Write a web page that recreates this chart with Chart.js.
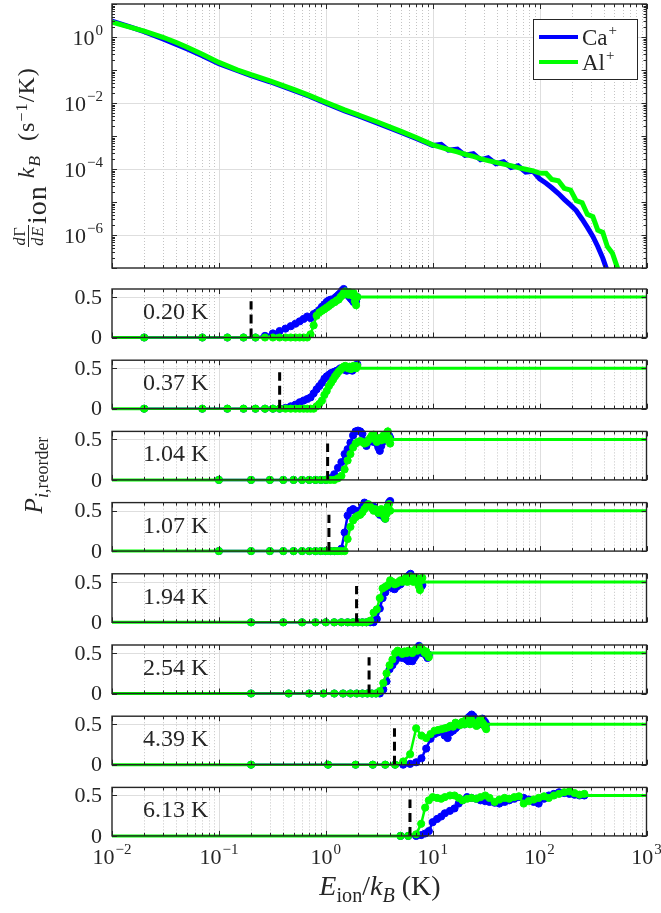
<!DOCTYPE html>
<html>
<head>
<meta charset="utf-8">
<script src="https://cdn.jsdelivr.net/npm/chart.js@4.4.1/dist/chart.umd.min.js"></script>
<style>
  body { margin: 0; background: #fff; }
  #wrap { position: relative; width: 661px; height: 913px; overflow: hidden;
          font-family: "Liberation Serif", serif; color: #262626; }
  canvas { position: absolute; left: 0; }
  .lbl { position: absolute; white-space: nowrap; text-align: center; z-index: 5; }
  .lbl sub { font-size: 0.72em; vertical-align: -0.35em; line-height: 0; }
  .lbl sup { font-size: 0.68em; vertical-align: 0.45em; line-height: 0; }
  .frac { display: inline-block; vertical-align: middle; font-size: 16px; line-height: 17px; text-align: center; margin-right: 1px; }
  .frac span { display: block; padding: 0 1px; }
  .frac .den { border-top: 1px solid #262626; }
  .ion { font-size: 28px; position: relative; top: 12px; letter-spacing: 1px; }
</style>
</head>
<body>
<div id="wrap">
  <canvas id="rate" width="661" height="282" style="top:0"></canvas>
</div>
<script>
// ---- top panel: differential rate vs ion energy ----
const rateE = [0.01, 0.015, 0.02, 0.03, 0.04, 0.05, 0.07, 0.1, 0.15, 0.2,
  0.3, 0.5, 0.7, 1, 1.5, 2, 3, 5, 7, 10,
  12, 14, 17, 20, 24, 28, 33, 39, 46, 54,
  63, 74, 87, 100, 115, 130, 150, 170, 195, 220,
  250, 280, 315, 350, 390, 430, 480, 530, 590];
const rateCa = [3.0, 2.0, 1.45, 0.88, 0.6, 0.44, 0.27, 0.155, 0.095, 0.068,
  0.044, 0.024, 0.016, 0.0098, 0.0058, 0.0041, 0.0025, 0.0013, 0.00085, 0.00052,
  5.6e-4, 3.7e-4, 4.0e-4, 2.6e-4, 2.9e-4, 1.9e-4, 2.2e-4, 1.45e-4, 1.65e-4, 1.1e-4,
  1.25e-4, 8e-5, 8.5e-5, 5e-5, 3.7e-5, 2.7e-5, 1.8e-5, 1.2e-5, 8e-6, 5.5e-6,
  3e-6, 1.7e-6, 9e-7, 4.5e-7, 2e-7, 8e-8, 3e-8, 1e-8, 4e-9];
const rateAl = [2.8, 1.95, 1.5, 0.98, 0.68, 0.5, 0.3, 0.17, 0.1, 0.072,
  0.047, 0.026, 0.017, 0.0105, 0.0062, 0.0044, 0.0027, 0.0014, 0.0009, 0.00054,
  4.5e-4, 3.9e-4, 3.3e-4, 2.8e-4, 2.4e-4, 2.05e-4, 1.8e-4, 1.58e-4, 1.4e-4, 1.25e-4,
  1.1e-4, 9.8e-5, 8.8e-5, 7.5e-5, 7.4e-5, 4.8e-5, 4.4e-5, 2.6e-5, 2.3e-5, 1.1e-5,
  9.5e-6, 4.2e-6, 3.6e-6, 1.4e-6, 1.2e-6, 4.5e-7, 2.8e-7, 1.1e-7, 4e-8];

// ---- reorder probability panels ----
const thresholds = [0.20, 0.37, 1.04, 1.07, 1.94, 2.54, 4.39, 6.13];
const tags = ['0.20 K', '0.37 K', '1.04 K', '1.07 K', '1.94 K', '2.54 K', '4.39 K', '6.13 K'];

const e12 = [0.02, 0.07, 0.12, 0.17, 0.22, 0.27, 0.32, 0.37, 0.42, 0.47, 0.52, 0.57, 0.62, 0.67, 0.72, 0.77, 0.82, 0.87, 0.92, 0.97,
  1.02, 1.07, 1.12, 1.17, 1.22, 1.27, 1.32, 1.37, 1.42, 1.47, 1.52, 1.57, 1.62, 1.67, 1.72, 1.77, 1.82, 1.87, 1.92, 1.97];
const ca1 = [0, 0, 0, 0, 0, 0.02, 0.05, 0.08, 0.11, 0.14, 0.17, 0.2, 0.23, 0.26, 0.24, 0.29, 0.31, 0.34, 0.38, 0.41,
  0.44, 0.46, 0.47, 0.45, 0.49, 0.51, 0.53, 0.55, 0.58, 0.6, 0.57, 0.55, 0.52, 0.5, 0.48, 0.46, 0.44, 0.47, 0.45, 0.5];
const al1 = [0, 0, 0, 0, 0, 0, 0, 0, 0, 0, 0, 0, 0, 0, 0.04, 0.15, 0.27, 0.31, 0.33, 0.35,
  0.37, 0.39, 0.41, 0.43, 0.44, 0.46, 0.47, 0.5, 0.52, 0.55, 0.57, 0.55, 0.53, 0.56, 0.54, 0.52, 0.55, 0.45, 0.4, 0.5];
const ca2 = [0, 0, 0, 0, 0, 0, 0, 0, 0.01, 0.03, 0.05, 0.08, 0.1, 0.12, 0.14, 0.19, 0.24, 0.28, 0.32, 0.37,
  0.4, 0.42, 0.44, 0.45, 0.46, 0.47, 0.48, 0.5, 0.49, 0.5, 0.48, 0.47, 0.49, 0.5, 0.48, 0.47, 0.5, 0.52, 0.53, 0.55];
const al2 = [0, 0, 0, 0, 0, 0, 0, 0, 0, 0, 0, 0, 0, 0, 0, 0, 0.03, 0.06, 0.1, 0.17,
  0.22, 0.28, 0.32, 0.36, 0.4, 0.43, 0.46, 0.48, 0.5, 0.52, 0.53, 0.51, 0.5, 0.52, 0.49, 0.51, 0.53, 0.52, 0.5, 0.53];

const e34 = [0.1, 0.2, 0.3, 0.4, 0.5, 0.6, 0.7, 0.8, 0.9, 1.0, 1.1, 1.2, 1.3, 1.4, 1.5, 1.6, 1.7, 1.8, 1.9, 2.0,
  2.1, 2.2, 2.3, 2.4, 2.5, 2.6, 2.7, 2.8, 2.9, 3.0, 3.1, 3.2, 3.3, 3.4, 3.5, 3.6, 3.7, 3.8, 3.9, 4.0];
const ca3 = [0, 0, 0, 0, 0, 0, 0, 0, 0, 0, 0.02, 0.07, 0.15, 0.22, 0.32, 0.38, 0.46, 0.55, 0.6, 0.61,
  0.6, 0.57, 0.48, 0.42, 0.47, 0.5, 0.49, 0.47, 0.5, 0.45, 0.4, 0.36, 0.42, 0.47, 0.5, 0.52, 0.55, 0.57, 0.55, 0.52];
const al3 = [0, 0, 0, 0, 0, 0, 0, 0, 0, 0, 0, 0, 0.02, 0.05, 0.13, 0.24, 0.32, 0.4, 0.45, 0.47,
  0.48, 0.47, 0.45, 0.46, 0.49, 0.52, 0.55, 0.56, 0.5, 0.47, 0.5, 0.52, 0.49, 0.53, 0.56, 0.5, 0.55, 0.6, 0.52, 0.45];
const ca4 = [0, 0, 0, 0, 0, 0, 0, 0, 0, 0, 0, 0, 0, 0.03, 0.23, 0.44, 0.5, 0.52, 0.5, 0.47,
  0.5, 0.55, 0.6, 0.58, 0.57, 0.56, 0.54, 0.55, 0.52, 0.5, 0.47, 0.45, 0.47, 0.5, 0.42, 0.4, 0.48, 0.55, 0.6, 0.62];
const al4 = [0, 0, 0, 0, 0, 0, 0, 0, 0, 0, 0, 0, 0, 0, 0, 0.15, 0.3, 0.38, 0.42, 0.44,
  0.45, 0.48, 0.52, 0.55, 0.58, 0.55, 0.53, 0.5, 0.52, 0.5, 0.47, 0.49, 0.52, 0.48, 0.44, 0.4, 0.46, 0.55, 0.58, 0.5];

const e5 = [0.2, 0.4, 0.6, 0.8, 1.0, 1.2, 1.4, 1.6, 1.8, 2.0, 2.2, 2.4, 2.6, 2.8, 3.0, 3.2, 3.4, 3.6, 3.8, 4.0,
  4.2, 4.4, 4.6, 4.8, 5.0, 5.2, 5.4, 5.6, 5.8, 6.0, 6.2, 6.4, 6.6, 6.8, 7.0, 7.2, 7.4, 7.6, 7.8, 8.0];
const ca5 = [0, 0, 0, 0, 0, 0, 0, 0, 0, 0, 0, 0, 0, 0, 0.04, 0.17, 0.3, 0.37, 0.43, 0.44,
  0.42, 0.41, 0.44, 0.46, 0.47, 0.5, 0.52, 0.54, 0.56, 0.58, 0.6, 0.57, 0.55, 0.53, 0.55, 0.52, 0.48, 0.45, 0.44, 0.46];
const al5 = [0, 0, 0, 0, 0, 0, 0, 0, 0, 0, 0, 0, 0.02, 0.12, 0.16, 0.3, 0.42, 0.44, 0.46, 0.52,
  0.5, 0.47, 0.48, 0.5, 0.52, 0.5, 0.53, 0.55, 0.5, 0.54, 0.57, 0.55, 0.5, 0.52, 0.55, 0.5, 0.45, 0.4, 0.52, 0.55];

const e6 = [0.2, 0.45, 0.7, 0.95, 1.2, 1.45, 1.7, 1.95, 2.2, 2.45, 2.7, 2.95, 3.2, 3.45, 3.7, 3.95, 4.2, 4.45, 4.7,
  4.95, 5.2, 5.45, 5.7, 5.95, 6.2, 6.45, 6.7, 6.95, 7.2, 7.45, 7.7, 7.95, 8.2, 8.45, 8.7, 8.95, 9.2];
const ca6 = [0, 0, 0, 0, 0, 0, 0, 0, 0, 0, 0, 0, 0, 0.05, 0.15, 0.3, 0.35, 0.4, 0.44,
  0.45, 0.44, 0.45, 0.42, 0.4, 0.42, 0.4, 0.44, 0.47, 0.52, 0.59, 0.55, 0.5, 0.52, 0.5, 0.47, 0.44, 0.48];
const al6 = [0, 0, 0, 0, 0, 0, 0, 0, 0, 0, 0, 0, 0.03, 0.13, 0.25, 0.35, 0.42, 0.5, 0.53,
  0.51, 0.49, 0.52, 0.5, 0.53, 0.51, 0.5, 0.53, 0.55, 0.53, 0.55, 0.57, 0.55, 0.53, 0.5, 0.52, 0.48, 0.45];

const e7 = [0.2, 1.05, 1.9, 2.75, 3.6, 4.45, 5.3, 6.15, 7.0, 7.85, 8.7, 9.55, 10.4, 11.25, 12.1, 12.95, 13.8, 14.65, 15.5,
  16.35, 17.2, 18.05, 18.9, 19.75, 20.6, 21.45, 22.3, 23.15, 24.0, 24.85, 25.7, 26.55, 27.4, 28.25, 29.1, 29.95, 30.8, 31.65];
const ca7 = [0, 0, 0, 0, 0, 0, 0, 0.01, 0.03, 0.08, 0.2, 0.32, 0.38, 0.4, 0.42, 0.36, 0.33, 0.4, 0.42,
  0.45, 0.48, 0.5, 0.52, 0.5, 0.55, 0.58, 0.6, 0.62, 0.6, 0.57, 0.55, 0.52, 0.5, 0.54, 0.57, 0.55, 0.53, 0.5];
const al7 = [0, 0, 0, 0, 0, 0, 0.04, 0.13, 0.45, 0.36, 0.33, 0.38, 0.42, 0.43, 0.44, 0.45, 0.46, 0.48, 0.47,
  0.52, 0.5, 0.49, 0.53, 0.5, 0.56, 0.54, 0.5, 0.55, 0.52, 0.5, 0.48, 0.5, 0.55, 0.56, 0.52, 0.5, 0.47, 0.44];

const e8 = [5, 5.9, 7, 7.8, 8.5, 9.2, 10, 11, 12, 13, 14.5, 16, 17.5, 19, 21, 23, 25.5, 28, 31, 34,
  38, 42, 47, 52, 58, 64, 71, 79, 88, 98, 110, 122, 136, 152, 170, 190, 212, 236, 262];
const ca8 = [0, 0, 0, 0.01, 0.03, 0.06, 0.17, 0.21, 0.24, 0.28, 0.31, 0.34, 0.4, 0.44, 0.48, 0.47, 0.46, 0.44, 0.43, 0.42,
  0.41, 0.4, 0.42, 0.44, 0.46, 0.48, 0.47, 0.45, 0.42, 0.4, 0.46, 0.5, 0.52, 0.54, 0.53, 0.52, 0.51, 0.5, 0.5];
const al8 = [0, 0, 0.02, 0.15, 0.35, 0.44, 0.48, 0.47, 0.46, 0.48, 0.5, 0.5, 0.47, 0.44, 0.46, 0.47, 0.46, 0.48, 0.5, 0.47,
  0.42, 0.45, 0.47, 0.46, 0.48, 0.49, 0.4, 0.43, 0.45, 0.47, 0.49, 0.47, 0.5, 0.52, 0.54, 0.55, 0.53, 0.51, 0.52];

const panels = [
  { e: e12, ca: ca1, al: al1 },
  { e: e12, ca: ca2, al: al2 },
  { e: e34, ca: ca3, al: al3 },
  { e: e34, ca: ca4, al: al4 },
  { e: e5, ca: ca5, al: al5 },
  { e: e6, ca: ca6, al: al6 },
  { e: e7, ca: ca7, al: al7 },
  { e: e8, ca: ca8, al: al8 }
];

// axis ticks
const xMajor = [1e-2, 1e-1, 1e0, 1e1, 1e2, 1e3];
const xTickExp = ['\u22122', '\u22121', '0', '1', '2', '3'];
const yRateLabels = [1e0, 1e-2, 1e-4, 1e-6];
const yRateExp = ['0', '\u22122', '\u22124', '\u22126'];
const yRateMajor = [1e1, 1e0, 1e-1, 1e-2, 1e-3, 1e-4, 1e-5, 1e-6, 1e-7];

function minors(lo, hi) {
  const out = [];
  for (let p = lo; p < hi; p++) for (let m = 2; m <= 9; m++) out.push(m * Math.pow(10, p));
  return out;
}
const xMinor = minors(-2, 3);
const yRateMinor = minors(-7, 1);

const BLUE = '#0000ff', GREEN = '#00ff00', INK = '#262626';
const SERIF = '"Liberation Serif", serif';
const AREA_L = 112, AREA_R = 646.5;

function pow10(ctx, exp, x, y, align) {
  ctx.font = '22px ' + SERIF;
  const wb = ctx.measureText('10').width;
  ctx.font = '15px ' + SERIF;
  const we = ctx.measureText(exp).width;
  const w = wb + we + 1;
  const x0 = align === 'center' ? x - w / 2 : x - w;
  ctx.textAlign = 'left';
  ctx.textBaseline = 'alphabetic';
  ctx.font = '22px ' + SERIF;
  ctx.fillText('10', x0, y);
  ctx.font = '15px ' + SERIF;
  ctx.fillText(exp, x0 + wb + 1, y - 10);
}

// matlab-like box, grid, ticks and labels
const frame = {
  id: 'frame',
  beforeDatasetsDraw(chart, args, o) {
    const { ctx, chartArea: a } = chart;
    const xs = chart.scales.x, ys = chart.scales.y;
    ctx.save();
    ctx.lineWidth = 1;
    ctx.strokeStyle = '#c4c4c4';
    ctx.setLineDash([1, 2]);
    xMinor.forEach(v => {
      const px = Math.round(xs.getPixelForValue(v)) + 0.5;
      ctx.beginPath(); ctx.moveTo(px, a.top); ctx.lineTo(px, a.bottom); ctx.stroke();
    });
    ctx.setLineDash([]);
    ctx.strokeStyle = '#dedede';
    xMajor.slice(1, -1).forEach(v => {
      const px = Math.round(xs.getPixelForValue(v)) + 0.5;
      ctx.beginPath(); ctx.moveTo(px, a.top); ctx.lineTo(px, a.bottom); ctx.stroke();
    });
    o.yGrid.forEach(v => {
      const py = Math.round(ys.getPixelForValue(v)) + 0.5;
      ctx.beginPath(); ctx.moveTo(a.left, py); ctx.lineTo(a.right, py); ctx.stroke();
    });
    ctx.restore();
  },
  afterDatasetsDraw(chart, args, o) {
    const { ctx, chartArea: a } = chart;
    const xs = chart.scales.x, ys = chart.scales.y;
    ctx.save();
    ctx.strokeStyle = INK;
    ctx.lineWidth = 1;
    const tick = (vals, len, horiz) => vals.forEach(v => {
      if (horiz) {
        const px = Math.round(xs.getPixelForValue(v)) + 0.5;
        ctx.beginPath();
        ctx.moveTo(px, a.bottom); ctx.lineTo(px, a.bottom - len);
        ctx.moveTo(px, a.top); ctx.lineTo(px, a.top + len);
        ctx.stroke();
      } else {
        const py = Math.round(ys.getPixelForValue(v)) + 0.5;
        ctx.beginPath();
        ctx.moveTo(a.left, py); ctx.lineTo(a.left + len, py);
        ctx.moveTo(a.right, py); ctx.lineTo(a.right - len, py);
        ctx.stroke();
      }
    });
    tick(xMajor, 5, true);
    tick(xMinor, 3, true);
    tick(o.yMajor, 5, false);
    tick(o.yMinor, 3, false);
    ctx.lineWidth = 1.4;
    ctx.strokeRect(a.left, a.top, a.right - a.left, a.bottom - a.top);

    ctx.fillStyle = INK;
    if (o.logY) {
      yRateLabels.forEach((v, i) => pow10(ctx, yRateExp[i], 103, ys.getPixelForValue(v) + 8, 'right'));
    } else {
      ctx.font = '22px ' + SERIF;
      ctx.textAlign = 'right';
      ctx.textBaseline = 'middle';
      ctx.fillText('0.5', 102, ys.getPixelForValue(0.5) + 1);
      ctx.fillText('0', 102, ys.getPixelForValue(0) + 1);
    }
    if (o.xLabels) {
      xMajor.forEach((v, i) => pow10(ctx, xTickExp[i], xs.getPixelForValue(v), a.bottom + 28, 'center'));
    }
    if (o.tag) {
      ctx.font = '24px ' + SERIF;
      ctx.textAlign = 'left';
      ctx.textBaseline = 'alphabetic';
      ctx.fillText(o.tag, 143, a.top + 30);
    }
    if (o.legend) {
      const lx = 533, ly = 19, lw = 104, lh = 60;
      ctx.fillStyle = '#fff';
      ctx.fillRect(lx, ly, lw, lh);
      ctx.lineWidth = 1;
      ctx.strokeStyle = INK;
      ctx.strokeRect(lx + 0.5, ly + 0.5, lw, lh);
      [['Ca', BLUE, 37], ['Al', GREEN, 62]].forEach(([name, col, yy]) => {
        ctx.strokeStyle = col;
        ctx.lineWidth = 4;
        ctx.beginPath(); ctx.moveTo(539, yy); ctx.lineTo(578, yy); ctx.stroke();
        ctx.fillStyle = INK;
        ctx.textAlign = 'left';
        ctx.textBaseline = 'alphabetic';
        ctx.font = '23px ' + SERIF;
        ctx.fillText(name, 582, yy + 8);
        const w = ctx.measureText(name).width;
        ctx.font = '15px ' + SERIF;
        ctx.fillText('+', 582 + w + 1, yy - 2);
      });
    }
    ctx.restore();
  }
};

function baseOptions(padTop, padBottom, yScale, frameOpts) {
  return {
    responsive: false,
    animation: false,
    devicePixelRatio: 1,
    events: [],
    layout: { padding: { left: AREA_L, right: 661 - AREA_R, top: padTop, bottom: padBottom } },
    plugins: { legend: { display: false }, tooltip: { enabled: false }, frame: frameOpts },
    scales: {
      x: { type: 'logarithmic', min: 0.01, max: 1000, display: false },
      y: Object.assign({ display: false }, yScale)
    }
  };
}

const pts = (xs, ys) => xs.map((x, i) => ({ x: x, y: ys[i] }));

// top chart
new Chart(document.getElementById('rate'), {
  type: 'scatter',
  data: {
    datasets: [
      { data: pts(rateE, rateAl), showLine: true, borderColor: GREEN, borderWidth: 5, pointRadius: 0, order: 0 },
      { data: pts(rateE, rateCa), showLine: true, borderColor: BLUE, borderWidth: 5, pointRadius: 0, order: 1 }
    ]
  },
  options: baseOptions(4, 282 - 268, { type: 'logarithmic', min: 1e-7, max: 10 },
    { yGrid: yRateLabels, yMajor: yRateMajor, yMinor: yRateMinor, logY: true, legend: true }),
  plugins: [frame]
});

// small panels
const wrap = document.getElementById('wrap');
const firstBottom = 337.5, pitch = 71.2, ph = 48.5;
panels.forEach((p, i) => {
  const bottom = firstBottom + pitch * i;
  const top = bottom - ph;
  const last = i === panels.length - 1;
  const cTop = Math.floor(top) - 10;
  const cH = last ? 913 - cTop : Math.ceil(bottom) + 10 - cTop;
  const cv = document.createElement('canvas');
  cv.width = 661; cv.height = cH; cv.style.top = cTop + 'px';
  wrap.appendChild(cv);
  const eLast = p.e[p.e.length - 1];
  const mk = { showLine: true, borderWidth: 2.5, pointRadius: 3.6, pointBorderWidth: 1, clip: false };
  new Chart(cv, {
    type: 'scatter',
    data: {
      datasets: [
        { data: [{ x: thresholds[i], y: 0 }, { x: thresholds[i], y: 0.45 }], showLine: true, borderColor: '#000',
          borderWidth: 3, borderDash: [9, 5], pointRadius: 0, order: 0, clip: false },
        Object.assign({ data: pts(p.e, p.al), borderColor: GREEN, backgroundColor: GREEN, order: 1 }, mk),
        { data: [{ x: 0.01, y: 0 }, { x: p.e[0], y: 0 }], showLine: true, borderColor: GREEN, borderWidth: 3,
          pointRadius: 0, order: 2, clip: false },
        { data: [{ x: eLast, y: 0.5 }, { x: 1000, y: 0.5 }], showLine: true, borderColor: GREEN, borderWidth: 3,
          pointRadius: 0, order: 2, clip: false },
        Object.assign({ data: pts(p.e, p.ca), borderColor: BLUE, backgroundColor: BLUE, order: 3 }, mk)
      ]
    },
    options: baseOptions(top - cTop, cTop + cH - bottom, { type: 'linear', min: 0, max: 0.6 },
      { yGrid: [0.5], yMajor: [0, 0.5], yMinor: [], logY: false, xLabels: last, tag: tags[i] }),
    plugins: [frame]
  });
});
</script>
<div class="lbl" style="left:-105px; top:142px; width:260px; height:30px; line-height:30px; font-size:24px; letter-spacing:1px; transform:rotate(-90deg);">
  <span class="frac"><span><i>d</i>&Gamma;</span><span class="den"><i>dE</i></span></span><span class="ion">ion</span>&nbsp;<i>k</i><sub><i>B</i></sub>&nbsp;&nbsp;(s<sup>&minus;1</sup>/K)
</div>
<div class="lbl" style="left:-31px; top:460px; width:130px; height:30px; line-height:30px; font-size:25px; transform:rotate(-90deg);">
  <i>P</i><sub><i>i</i>,reorder</sub>
</div>
<div class="lbl" style="left:260px; top:869px; width:240px; height:34px; line-height:34px; font-size:28px; position:absolute;">
  <i>E</i><sub>ion</sub>/<i>k</i><sub><i>B</i></sub>&nbsp;(K)
</div>
<script>
// move the html labels into the fixed-size wrapper
document.querySelectorAll('body > .lbl').forEach(el => document.getElementById('wrap').appendChild(el));
</script>
</body>
</html>
